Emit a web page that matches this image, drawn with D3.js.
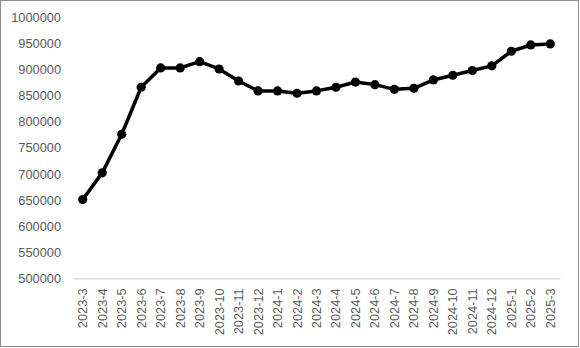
<!DOCTYPE html>
<html lang="en">
  <head>
    <meta charset="UTF-8" />
    <title>Monthly series 2023-3 to 2025-3</title>
    <script src="https://d3js.org/d3.v7.min.js"></script>
    <style>
      body { margin: 0; background: #fff; }
    </style>
  </head>
  <body>
    <div id="chart"></div>
    <script>
      // data
      var months = ["2023-3", "2023-4", "2023-5", "2023-6", "2023-7", "2023-8", "2023-9", "2023-10", "2023-11", "2023-12",
        "2024-1", "2024-2", "2024-3", "2024-4", "2024-5", "2024-6", "2024-7", "2024-8", "2024-9", "2024-10",
        "2024-11", "2024-12", "2025-1", "2025-2", "2025-3"];
      var values = [651000, 702000, 776000, 866000, 903000, 903000, 915000, 901000, 878000, 859000,
        859000, 854500, 859000, 866000, 876000, 871000, 862000, 864000, 880000, 889000,
        898000, 907000, 935000, 947000, 949000];
      var yTicks = [500000, 550000, 600000, 650000, 700000, 750000, 800000, 850000, 900000, 950000, 1000000];

      var width = 580, height = 348;

      var svg = d3.select("#chart")
        .append("svg")
        .attr("width", width)
        .attr("height", height);

      // chart area border
      svg.append("rect")
        .attr("x", 0.5)
        .attr("y", 0.5)
        .attr("width", width - 2)
        .attr("height", height - 2)
        .attr("fill", "#fff")
        .attr("stroke", "#8c8c8c");

      var x = d3.scaleBand()
        .domain(months)
        .range([73, 560]);

      var y = d3.scaleLinear()
        .domain([500000, 1000000])
        .range([278.3, 17.3]);

      // y axis labels, no line, no ticks
      var yAxis = svg.append("g")
        .attr("transform", "translate(61,0)")
        .call(d3.axisLeft(y).tickValues(yTicks).tickSize(0).tickPadding(0).tickFormat(d3.format("d")));
      yAxis.select(".domain").remove();
      yAxis.selectAll("text")
        .attr("fill", "#595959")
        .style("font-family", "Liberation Sans, Arial, sans-serif")
        .style("font-size", "12.8px");

      // x axis baseline and rotated labels
      var xAxis = svg.append("g")
        .attr("transform", "translate(0," + y(500000) + ")")
        .call(d3.axisBottom(x).tickSize(0).tickSizeOuter(0));
      xAxis.select(".domain")
        .attr("stroke", "#d9d9d9")
        .attr("stroke-width", 1.3);
      xAxis.selectAll("text")
        .attr("fill", "#595959")
        .style("font-family", "Liberation Sans, Arial, sans-serif")
        .style("font-size", "12.8px")
        .attr("text-anchor", "end")
        .attr("dy", "0.35em")
        .attr("transform", "translate(0,10) rotate(-90)")
        .attr("x", 0)
        .attr("y", 0);

      var line = d3.line()
        .x(function (d, i) { return x(months[i]) + x.bandwidth() / 2; })
        .y(function (d) { return y(d); });

      svg.append("path")
        .datum(values)
        .attr("fill", "none")
        .attr("stroke", "#000")
        .attr("stroke-width", 3.5)
        .attr("stroke-linejoin", "round")
        .attr("d", line);

      svg.append("g")
        .selectAll("circle")
        .data(values)
        .join("circle")
        .attr("cx", function (d, i) { return x(months[i]) + x.bandwidth() / 2; })
        .attr("cy", function (d) { return y(d); })
        .attr("r", 4.6)
        .attr("fill", "#000");
    </script>
  </body>
</html>
